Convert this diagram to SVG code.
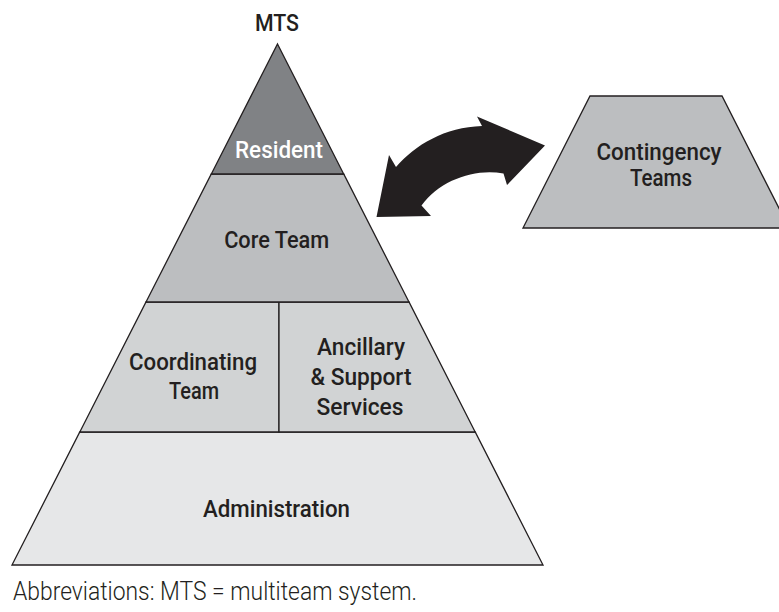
<svg xmlns="http://www.w3.org/2000/svg" width="779" height="612" viewBox="0 0 779 612">
  <style>
    .lbl { font-family: "Roboto", "Liberation Sans", sans-serif; font-size: 24px; font-weight: 500; fill: #231f20; text-anchor: middle; }
    .light { fill: #ffffff; }
    .band { stroke: #231f20; stroke-width: 1.3; stroke-linejoin: miter; }
    .note { font-family: "Roboto", "Liberation Sans", sans-serif; font-size: 25px; font-weight: 300; fill: #231f20; }
  </style>
  <rect width="779" height="612" fill="#ffffff"/>

  <text class="lbl" x="277" y="31" textLength="44" lengthAdjust="spacingAndGlyphs">MTS</text>

  <!-- pyramid bands -->
  <g id="administration">
    <polygon class="band" points="79.8,432 475.2,432 543,565 12,565" fill="#e6e7e8"/>
    <text class="lbl" x="276.5" y="516.5" textLength="147" lengthAdjust="spacingAndGlyphs">Administration</text>
  </g>
  <g id="coordinating-team">
    <polygon class="band" points="146,302 279,302 279,432 79.8,432" fill="#d1d3d4"/>
    <text class="lbl" x="193" y="370" textLength="128" lengthAdjust="spacingAndGlyphs">Coordinating</text>
    <text class="lbl" x="194" y="399" textLength="50" lengthAdjust="spacingAndGlyphs">Team</text>
  </g>
  <g id="ancillary-support">
    <polygon class="band" points="279,302 409,302 475.2,432 279,432" fill="#d1d3d4"/>
    <text class="lbl" x="361" y="355" textLength="88" lengthAdjust="spacingAndGlyphs">Ancillary</text>
    <text class="lbl" x="361" y="385" textLength="101" lengthAdjust="spacingAndGlyphs">&amp; Support</text>
    <text class="lbl" x="360" y="414.5" textLength="87" lengthAdjust="spacingAndGlyphs">Services</text>
  </g>
  <g id="core-team">
    <polygon class="band" points="211.3,174 343.7,174 409,302 146,302" fill="#bcbec0"/>
    <text class="lbl" x="276.7" y="248.3" textLength="105" lengthAdjust="spacingAndGlyphs">Core Team</text>
  </g>
  <g id="resident">
    <polygon class="band" points="277.5,44 343.7,174 211.3,174" fill="#808285"/>
    <text class="lbl light" x="279" y="158" textLength="88" lengthAdjust="spacingAndGlyphs">Resident</text>
  </g>

  <g id="contingency-teams">
    <polygon class="band" points="590,96 722,96 789,228 523,228" fill="#bcbec0"/>
    <text class="lbl" x="659" y="160" textLength="125" lengthAdjust="spacingAndGlyphs">Contingency</text>
    <text class="lbl" x="661" y="186" textLength="62" lengthAdjust="spacingAndGlyphs">Teams</text>
  </g>

  <!-- two-way exchange arrow -->
  <g id="connectors">
    <path d="M376.5,217 L389,155 L396,167 C415,145 445,127 482,126 L477,116.5 L545,145.5 L507,185 L503.5,173.5 C475,168 440,180 421.5,205.5 L431,216 Z" fill="#231f20"/>
  </g>

  <text class="note" x="13" y="599.5" textLength="404" lengthAdjust="spacingAndGlyphs">Abbreviations: MTS = multiteam system.</text>
</svg>
